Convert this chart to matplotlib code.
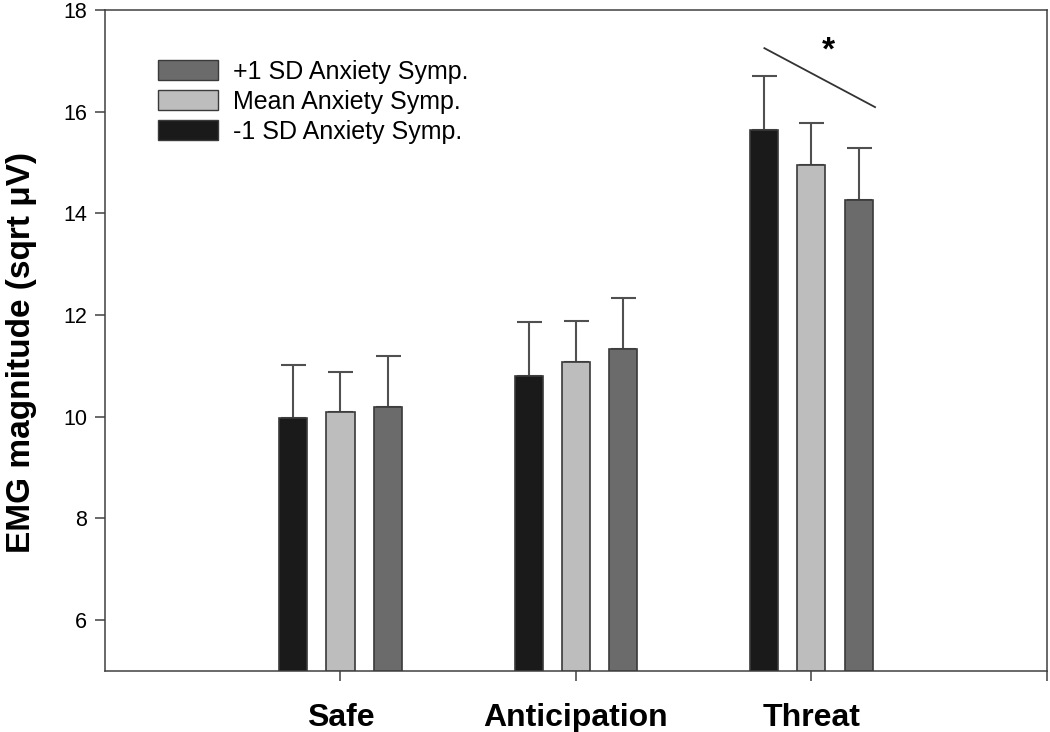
# %%
import matplotlib.pyplot as plt
import numpy as np
from matplotlib.patches import Patch

plt.rcParams['font.family'] = ['Liberation Sans', 'DejaVu Sans']

# %%
# Values (bar heights and upward error bars)
conditions = ['Safe', 'Anticipation', 'Threat']
minus_sd = [9.98, 10.80, 15.64]
minus_sd_err = [1.04, 1.06, 1.06]
mean_anx = [10.09, 11.07, 14.95]
mean_anx_err = [0.79, 0.81, 0.83]
plus_sd = [10.19, 11.33, 14.26]
plus_sd_err = [1.00, 1.01, 1.03]

series_labels = ['-1 SD Anxiety Symp.', 'Mean Anxiety Symp.', '+1 SD Anxiety Symp.']
series_colors = ['#1a1a1a', '#bdbdbd', '#6b6b6b']

# %%
fig = plt.figure(figsize=(10.5, 7.32), dpi=100, facecolor='white')
ax = fig.add_axes([0.1, 0.0836, 0.8971, 0.9027])

x = np.arange(1, len(conditions) + 1)
width = 0.119
offsets = [-0.2, 0.0, 0.2]
values = [minus_sd, mean_anx, plus_sd]
errors = [minus_sd_err, mean_anx_err, plus_sd_err]

bottom = 5
for vals, errs, col, off in zip(values, errors, series_colors, offsets):
    vals = np.array(vals)
    ax.bar(x + off, vals - bottom, width, bottom=bottom, color=col,
           edgecolor='#3a3a3a', linewidth=1.2, zorder=3)
    ax.errorbar(x + off, vals, yerr=[np.zeros(len(vals)), errs], fmt='none',
                ecolor='#505050', elinewidth=1.5, capsize=9, capthick=1.5,
                zorder=2)

# significance marker over Threat
ax.plot([2.80, 3.27], [17.25, 16.09], color='#333333', linewidth=1.3)
ax.text(3.07, 17.2, '*', fontsize=24, fontweight='bold', ha='center',
        va='center')

# axes
ax.set_xlim(0, 4)
ax.set_ylim(5, 18)
ax.set_yticks([6, 8, 10, 12, 14, 16, 18])
ax.set_xticks([1, 2, 3, 4])
ax.set_xticklabels(conditions + [''], fontsize=23, fontweight='bold')
ax.tick_params(axis='y', labelsize=15.5, length=7, width=1.1, color='#404040',
               pad=6)
ax.tick_params(axis='x', length=7, width=1.1, color='#404040', pad=16)
for s in ax.spines.values():
    s.set_color('#404040')
    s.set_linewidth(1.1)
ax.set_ylabel('EMG magnitude (sqrt μV)', fontsize=24, fontweight='bold')
ax.yaxis.set_label_coords(-0.072, 0.482)

# legend
handles = [Patch(facecolor=c, edgecolor='#3a3a3a', linewidth=1.0)
           for c in series_colors]
ax.legend(handles[::-1], series_labels[::-1], loc='upper left',
          bbox_to_anchor=(0.056, 0.925), frameon=False, fontsize=18,
          handlelength=2.4, handleheight=0.85, handletextpad=0.6,
          labelspacing=0.25, borderpad=0, borderaxespad=0)

fig.savefig('out.png', dpi=100)
